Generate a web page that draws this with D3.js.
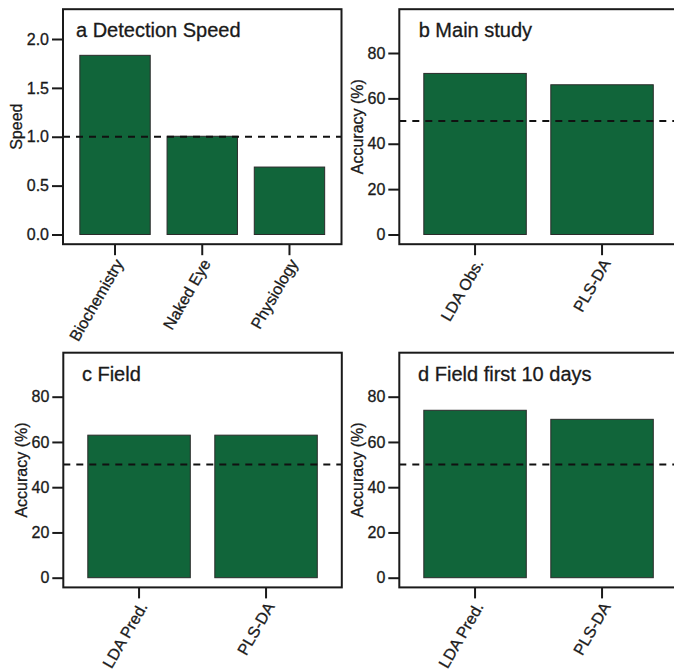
<!DOCTYPE html>
<html>
<head>
<meta charset="utf-8">
<script src="https://cdn.jsdelivr.net/npm/d3@7"></script>
<style>
  html, body { margin: 0; padding: 0; background: #fff; }
  svg { display: block; font-family: "Liberation Sans", Arial, sans-serif; }
  svg text { stroke: #1a1a1a; stroke-width: 0.3px; }
</style>
</head>
<body>
<svg id="chart" width="674" height="670"></svg>
<script>
// ---- data ----
const speedCategories = ["Biochemistry", "Naked Eye", "Physiology"];
const speedValues = [1.833, 1.005, 0.69];
const speedTicks = [0, 0.5, 1.0, 1.5, 2.0];
const speedReference = 1.0;

const mainCategories = ["LDA Obs.", "PLS-DA"];
const mainValues = [71, 66];

const fieldCategories = ["LDA Pred.", "PLS-DA"];
const fieldValues = [63, 63];

const field10Categories = ["LDA Pred.", "PLS-DA"];
const field10Values = [74, 70];

const accuracyTicks = [0, 20, 40, 60, 80];
const accuracyReference = 50;

const panelTitles = ["a Detection Speed", "b Main study", "c Field", "d Field first 10 days"];

// ---- layout ----
const boxW = 278.5;
const layout = [
  { x: 63,    y: 9.2,   h: 235,   titleDx: 13, topPad: 29.8, tickFmt: d3.format(".1f"), yTitle: "Speed" },
  { x: 399.3, y: 9.2,   h: 235,   titleDx: 19.4, topPad: 43.8, tickFmt: d3.format("d"), yTitle: "Accuracy (%)" },
  { x: 63.3,  y: 352.7, h: 234.7, titleDx: 18.6, topPad: 44,   tickFmt: d3.format("d"), yTitle: "Accuracy (%)" },
  { x: 399.3, y: 352.7, h: 234.7, titleDx: 18.8, topPad: 44,   tickFmt: d3.format("d"), yTitle: "Accuracy (%)" }
];

const panels = [
  { cats: speedCategories, vals: speedValues, ticks: speedTicks, ref: speedReference },
  { cats: mainCategories, vals: mainValues, ticks: accuracyTicks, ref: accuracyReference },
  { cats: fieldCategories, vals: fieldValues, ticks: accuracyTicks, ref: accuracyReference },
  { cats: field10Categories, vals: field10Values, ticks: accuracyTicks, ref: accuracyReference }
];

const barFill = "#11653a";
const ink = "#1a1a1a";
const svg = d3.select("#chart");
svg.append("rect").attr("width", 674).attr("height", 670).attr("fill", "#fff");

panels.forEach((p, i) => {
  const L = layout[i];
  const left = L.x, top = L.y, right = L.x + boxW, bottom = L.y + L.h;
  const g = svg.append("g");

  const x = d3.scaleBand().domain(p.cats).range([left, right])
    .paddingInner(0.193).paddingOuter(0.193);
  const tMax = p.ticks[p.ticks.length - 1];
  const y = d3.scaleLinear().domain([0, tMax]).range([bottom - 9.7, top + L.topPad]);

  // bars
  g.selectAll("rect.bar").data(p.cats.map((c, k) => ({ c, v: p.vals[k] })))
    .join("rect").attr("class", "bar")
    .attr("x", d => x(d.c)).attr("width", x.bandwidth())
    .attr("y", d => y(d.v)).attr("height", d => y(0) - y(d.v))
    .attr("fill", barFill).attr("stroke", "#2b2b2b").attr("stroke-width", 1);

  // reference dashed line
  g.append("line")
    .attr("x1", left).attr("x2", right)
    .attr("y1", y(p.ref)).attr("y2", y(p.ref))
    .attr("stroke", "#111").attr("stroke-width", 2)
    .attr("stroke-dasharray", "7,6");

  // y axis
  const ya = g.append("g").attr("transform", `translate(${left},0)`)
    .call(d3.axisLeft(y).tickValues(p.ticks).tickFormat(L.tickFmt).tickSize(11).tickPadding(3));
  ya.select(".domain").remove();
  ya.selectAll(".tick line").attr("stroke", ink).attr("stroke-width", 2);
  ya.selectAll(".tick text").attr("fill", ink).style("font-size", "16px")
    .style("font-family", "'Liberation Sans', Arial, sans-serif");

  // x axis
  const xa = g.append("g").attr("transform", `translate(0,${bottom})`)
    .call(d3.axisBottom(x).tickSize(11).tickFormat(""));
  xa.select(".domain").remove();
  xa.selectAll(".tick line").attr("stroke", ink).attr("stroke-width", 2);
  xa.selectAll(".tick text").remove();

  // rotated category labels
  g.selectAll("text.cat").data(p.cats).join("text").attr("class", "cat")
    .attr("transform", d => `translate(${x(d) + x.bandwidth() / 2 + 9},${bottom + 19}) rotate(-60)`)
    .attr("text-anchor", "end")
    .attr("fill", ink).style("font-size", "16px")
    .text(d => d);

  // frame
  g.append("rect").attr("x", left).attr("y", top).attr("width", boxW).attr("height", L.h)
    .attr("fill", "none").attr("stroke", ink).attr("stroke-width", 2);

  // y title
  const bb = ya.node().getBBox();
  g.append("text")
    .attr("transform", `translate(${left + bb.x - 5},${(top + bottom) / 2}) rotate(-90)`)
    .attr("text-anchor", "middle").attr("fill", ink).style("font-size", "16px")
    .text(L.yTitle);

  // panel title
  g.append("text").attr("x", left + L.titleDx).attr("y", top + 28)
    .attr("fill", ink).style("font-size", "20px").text(panelTitles[i]);
});
</script>
</body>
</html>
